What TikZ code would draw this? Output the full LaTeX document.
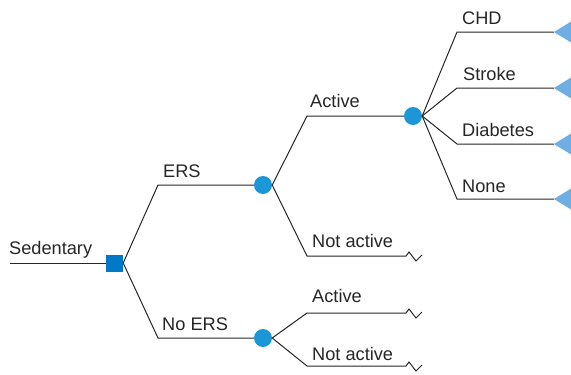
\documentclass[tikz,border=0pt]{standalone}
\usepackage{fontspec}
\setmainfont{Liberation Sans}
\definecolor{chance}{HTML}{1B96D6}
\definecolor{decision}{HTML}{0078C8}
\definecolor{term}{HTML}{6FAEE2}
\begin{document}
\begin{tikzpicture}[x=1pt,y=-1pt,
  br/.style={draw=black!85,line width=1pt},
  lbl/.style={anchor=base west,inner sep=0pt,font=\fontsize{18.2}{21}\selectfont,text=black!85},
  chancenode/.style={circle,fill=chance,minimum size=18pt,inner sep=0pt},
  decnode/.style={rectangle,fill=decision,minimum size=17pt,inner sep=0pt}]
\useasboundingbox (0,0) rectangle (571,375);
% nodes
\coordinate (s0) at (10,263);
\node[decnode] (d) at (114.5,263) {};
\coordinate (ersc) at (158,185);
\coordinate (noersc) at (158,338);
\node[chancenode] (c1) at (263,185) {};
\node[chancenode] (c2) at (263,338) {};
\coordinate (actc) at (307,116);
\coordinate (nac) at (307,256);
\node[chancenode] (c3) at (413,116) {};
\coordinate (act2c) at (307,313);
\coordinate (na2c) at (307,366);
\coordinate (chdc) at (457,32);
\coordinate (strc) at (457,88);
\coordinate (diac) at (457,144);
\coordinate (nonc) at (457,199);
% terminal triangles
\foreach \n/\y in {t1/32,t2/88,t3/144,t4/199}{
  \coordinate (\n) at (554,\y);
  \fill[term] (554,\y) -- (571,\y-10.5) -- (571,\y+10.5) -- cycle;
}
% branches
\draw[br] (s0) -- (d.west);
\draw[br] (d.east) -- (ersc) -- (c1.west);
\draw[br] (d.east) -- (noersc) -- (c2.west);
\draw[br] (c1.east) -- (actc) -- (c3.west);
\draw[br] (c1.east) -- (nac) -- (406,256) -- (409,252) -- (416,261) -- (422,255);
\draw[br] (c2.east) -- (act2c) -- (406,313) -- (409,309) -- (416,318) -- (422,312);
\draw[br] (c2.east) -- (na2c) -- (406,366) -- (409,362) -- (416,371) -- (422,365);
\draw[br] (c3.east) -- (chdc) -- (t1);
\draw[br] (c3.east) -- (strc) -- (t2);
\draw[br] (c3.east) -- (diac) -- (t3);
\draw[br] (c3.east) -- (nonc) -- (t4);
% labels
\node[lbl] (lsed) at (9,254) {Sedentary};
\node[lbl] (lers) at (163,177) {ERS};
\node[lbl] (lnoers) at (162,330) {No ERS};
\node[lbl] (lact) at (310,107) {Active};
\node[lbl] (lna) at (312,247) {Not active};
\node[lbl] (lact2) at (312,302) {Active};
\node[lbl] (lna2) at (312,360) {Not active};
\node[lbl] (lchd) at (462,24) {CHD};
\node[lbl] (lstr) at (463,80) {Stroke};
\node[lbl] (ldia) at (462,136) {Diabetes};
\node[lbl] (lnon) at (462,192) {None};
\end{tikzpicture}
\end{document}
